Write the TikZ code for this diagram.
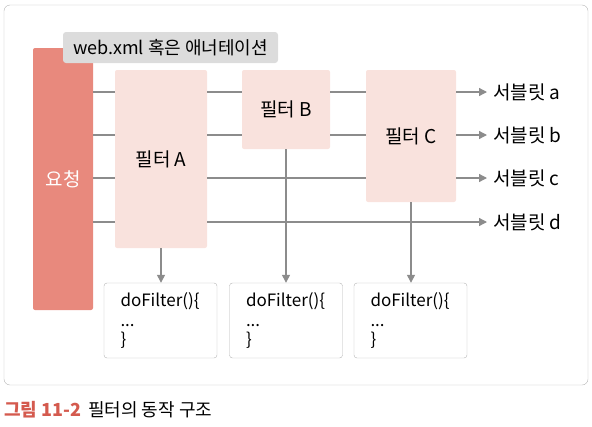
\documentclass[tikz,border=0pt]{standalone}
\usepackage{fontspec}
\setmainfont{Noto Sans CJK KR}
\usetikzlibrary{arrows.meta,positioning,calc}

\definecolor{reqred}{HTML}{E8897D}
\definecolor{filterpink}{HTML}{F9E2DD}
\definecolor{labelgray}{HTML}{DCDCDC}
\definecolor{linegray}{HTML}{8C8C8C}
\definecolor{framegray}{HTML}{B4B4B4}
\definecolor{capred}{HTML}{D45A4E}

\begin{document}
\begin{tikzpicture}[x=1pt,y=-1pt,
  filterbox/.style={fill=filterpink, rounded corners=2pt, font=\fontsize{19}{22}\selectfont},
  codebox/.style={draw=framegray, rounded corners=3pt, minimum width=113pt, minimum height=75pt,
    text width=80pt, align=left, font=\fontsize{17}{19.5}\selectfont},
  servlet/.style={anchor=west, inner xsep=6pt, font=\fontsize{19}{22}\selectfont},
  flow/.style={draw=linegray, line width=1.3pt},
  flowarr/.style={flow, -{Triangle[length=8pt,width=8pt]}}]
\useasboundingbox (0,0) rectangle (592,426);
\draw[framegray, rounded corners=6pt] (4,5) rectangle (588,385);

% boxes
\node[fill=reqred, rounded corners=2pt, minimum width=60pt, minimum height=262pt,
  text=white, font=\fontsize{19}{22}\selectfont] (req) at (63,179) {요청};
\node[fill=labelgray, rounded corners=3pt, minimum width=215pt, minimum height=31pt,
  font=\fontsize{18}{21}\selectfont] (lbl) at (170.5,47.5) {web.xml 혹은 애너테이션};
\node[filterbox, minimum width=92pt, minimum height=178pt] (fA) at (161,159) {필터 A};
\node[filterbox, minimum width=88pt, minimum height=79pt] (fB) at (286,109.5) {필터 B};
\node[filterbox, minimum width=90pt, minimum height=132pt] (fC) at (411,136) {필터 C};

% servlets
\foreach \n/\y in {a/92,b/135,c/178,d/222}
  \node[servlet] (s\n) at (487,\y) {서블릿 \n};

% rows
\foreach \s in {sa,sb,sc,sd}
  \draw[flow] (req.east |- \s.west) -- (fA.west |- \s.west);
\foreach \s in {sa,sb} {
  \draw[flow] (fA.east |- \s.west) -- (fB.west |- \s.west);
  \draw[flow] (fB.east |- \s.west) -- (fC.west |- \s.west);
}
\draw[flow] (fA.east |- sc.west) -- (fC.west |- sc.west);
\foreach \s in {sa,sb,sc}
  \draw[flowarr] (fC.east |- \s.west) -- (\s.west);
\draw[flowarr] (fA.east |- sd.west) -- (sd.west);

% doFilter
\foreach \f/\x in {A/160.5,B/286,C/410.5} {
  \node[codebox] (d\f) at (\x,320.5) {doFilter()\{\\ ...\\ \}};
  \draw[flowarr] (f\f.south) -- (f\f.south |- d\f.north);
}

\node[anchor=base west, inner sep=0pt, font=\fontsize{18}{21}\selectfont] (cap) at (4,416)
  {\textcolor{capred}{\textbf{그림 11-2}}\hspace{7pt}필터의 동작 구조};
\end{tikzpicture}
\end{document}
